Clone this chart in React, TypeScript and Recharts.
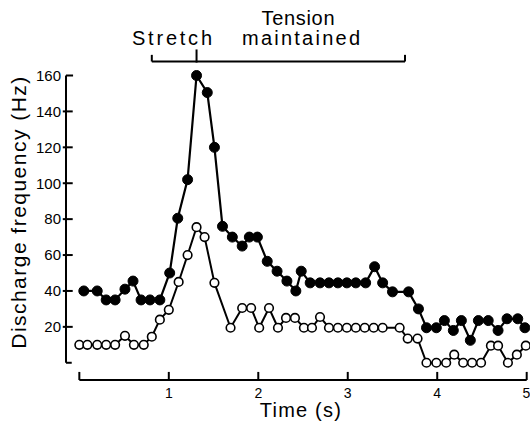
// Muscle spindle discharge during stretch and maintained tension

import React from "react";
import { LineChart, Line, XAxis, YAxis, ReferenceLine } from "recharts";

// filled circles
const filledTime = [
  0.05, 0.2, 0.3, 0.4, 0.51, 0.6, 0.69, 0.79, 0.9, 1.01, 1.1, 1.21, 1.31, 1.43,
  1.51, 1.6, 1.71, 1.82, 1.9, 1.99, 2.1, 2.21, 2.32, 2.42, 2.48, 2.58, 2.69,
  2.79, 2.89, 2.99, 3.09, 3.2, 3.3, 3.39, 3.5, 3.68, 3.79, 3.88, 3.99, 4.08,
  4.18, 4.27, 4.37, 4.46, 4.57, 4.68, 4.78, 4.9, 4.98,
];
const filledHz = [
  40, 40, 35, 35, 41, 45.5, 35, 35, 35, 50, 80.5, 102, 160, 150.5, 120, 76, 70,
  65, 70, 70, 56.5, 51, 45.5, 40, 51, 44.5, 44.5, 44.5, 44.5, 44.5, 44.5, 44.5,
  53.5, 44.5, 39.5, 39.5, 30, 19.5, 19.5, 23.5, 18, 23.5, 12.5, 23.5, 23.5, 18,
  24.5, 24.5, 19.5,
];

// open circles
const openTime = [
  0, 0.09, 0.2, 0.3, 0.4, 0.51, 0.61, 0.72, 0.81, 0.9, 1.0, 1.11, 1.21, 1.31,
  1.4, 1.51, 1.69, 1.82, 1.92, 2.01, 2.12, 2.22, 2.31, 2.41, 2.51, 2.6, 2.69,
  2.79, 2.89, 2.99, 3.09, 3.19, 3.29, 3.39, 3.58, 3.67, 3.78, 3.88, 3.99, 4.1,
  4.19, 4.29, 4.39, 4.49, 4.6, 4.68, 4.79, 4.89, 4.99,
];
const openHz = [
  10, 10, 10, 10, 10, 15, 10, 10, 14.5, 24, 29.5, 45, 60, 75.5, 70, 44.5, 19.5,
  30.5, 30.5, 19.5, 30.5, 19.5, 25, 25, 19.5, 19.5, 25.5, 19.5, 19.5, 19.5,
  19.5, 19.5, 19.5, 19.5, 19.5, 13.5, 13.5, 0, 0, 0, 4.5, 0, 0, 0, 9.5, 9.5, 0,
  4.5, 9.5,
];

const xTicks = [1, 2, 3, 4, 5];
const xAxisTicks = [0, 1, 2, 3, 4, 5];
const yTicks = [20, 40, 60, 80, 100, 120, 140, 160];

// bracket above the plot: stretch start, end of stretch, end of hold
const stretchStart = 0.81;
const stretchEnd = 1.31;
const holdEnd = 3.64;

const filledData = filledTime.map((t, i) => ({ t, hz: filledHz[i] }));
const openData = openTime.map((t, i) => ({ t, hz: openHz[i] }));

const FONT = '"Liberation Sans", Arial, sans-serif';
const X_MIN = -0.149;
const Y_MIN = -9.6;
const ax = { stroke: "#000", strokeWidth: 2, ifOverflow: "visible" as const };

function YLabel({ viewBox }: any) {
  const cx = 26;
  const cy = viewBox.y + viewBox.height / 2 - 15;
  return (
    <text
      x={cx}
      y={cy}
      transform={`rotate(-90, ${cx}, ${cy})`}
      textAnchor="middle"
      fontFamily={FONT}
      fontSize={21}
      textLength={272}
      lengthAdjust="spacing"
      fill="#000"
    >
      Discharge frequency (Hz)
    </text>
  );
}

function XLabel({ viewBox }: any) {
  return (
    <text
      x={viewBox.x + viewBox.width / 2 + 4}
      y={viewBox.y + 37}
      textAnchor="middle"
      fontFamily={FONT}
      fontSize={20}
      textLength={81}
      lengthAdjust="spacing"
      fill="#000"
    >
      Time (s)
    </text>
  );
}

export default function App() {
  return (
    <div style={{ position: "absolute", left: 0, top: 0, width: 530, height: 432 }}>
      <LineChart
        width={530}
        height={432}
        margin={{ top: 75.5, right: 3.3, bottom: 22, left: 26 }}
      >
        <XAxis
          dataKey="t"
          type="number"
          domain={[X_MIN, 5]}
          ticks={xTicks}
          axisLine={false}
          tickLine={false}
          tickSize={8}
          tickMargin={0}
          height={30}
          tick={{ fill: "#000", fontSize: 14, fontFamily: FONT }}
          label={<XLabel />}
        />
        <YAxis
          type="number"
          domain={[Y_MIN, 160]}
          ticks={yTicks}
          axisLine={false}
          tickLine={false}
          tickSize={5}
          tickMargin={0}
          width={40}
          tick={{ fill: "#000", fontSize: 15, fontFamily: FONT }}
          label={<YLabel />}
        />

        {/* y axis drawn as a bracket left of t = 0 */}
        <ReferenceLine segment={[{ x: X_MIN, y: 0 }, { x: X_MIN, y: 160 }]} {...ax} />
        <ReferenceLine segment={[{ x: X_MIN, y: 160 }, { x: -0.07, y: 160 }]} {...ax} />
        <ReferenceLine segment={[{ x: X_MIN, y: 0 }, { x: -0.085, y: 0 }]} {...ax} />
        {yTicks.slice(0, -1).map((v) => (
          <ReferenceLine key={v} segment={[{ x: -0.185, y: v }, { x: -0.074, y: v }]} {...ax} />
        ))}

        {/* x axis below y = 0, ticks pointing up */}
        <ReferenceLine segment={[{ x: 0, y: Y_MIN }, { x: 5, y: Y_MIN }]} {...ax} />
        {xAxisTicks.map((t) => (
          <ReferenceLine key={t} segment={[{ x: t, y: Y_MIN }, { x: t, y: -5.1 }]} {...ax} />
        ))}

        {/* stretch / tension maintained bracket */}
        <ReferenceLine segment={[{ x: stretchStart, y: 167.8 }, { x: holdEnd, y: 167.8 }]} {...ax} />
        <ReferenceLine segment={[{ x: stretchStart, y: 167.8 }, { x: stretchStart, y: 171.5 }]} {...ax} />
        <ReferenceLine segment={[{ x: stretchEnd, y: 167.2 }, { x: stretchEnd, y: 174.5 }]} {...ax} />
        <ReferenceLine segment={[{ x: holdEnd, y: 167.8 }, { x: holdEnd, y: 171.5 }]} {...ax} />

        <Line
          data={filledData}
          dataKey="hz"
          type="linear"
          stroke="#000"
          strokeWidth={2.2}
          dot={{ r: 5, fill: "#000", stroke: "#000", strokeWidth: 1 }}
          activeDot={false}
          isAnimationActive={false}
        />
        <Line
          data={openData}
          dataKey="hz"
          type="linear"
          stroke="#000"
          strokeWidth={2}
          dot={{ r: 4.3, fill: "#fff", stroke: "#000", strokeWidth: 1.6 }}
          activeDot={false}
          isAnimationActive={false}
        />
      </LineChart>

      {/* annotation words over the bracket */}
      <svg
        width={530}
        height={70}
        style={{ position: "absolute", left: 0, top: 0, pointerEvents: "none" }}
      >
        <g fontFamily={FONT} fontSize={20} fill="#000" textAnchor="middle">
          <text x={172} y={45} textLength={80} lengthAdjust="spacing">Stretch</text>
          <text x={298} y={25} textLength={73} lengthAdjust="spacing">Tension</text>
          <text x={301} y={45} textLength={118} lengthAdjust="spacing">maintained</text>
        </g>
      </svg>
    </div>
  );
}
